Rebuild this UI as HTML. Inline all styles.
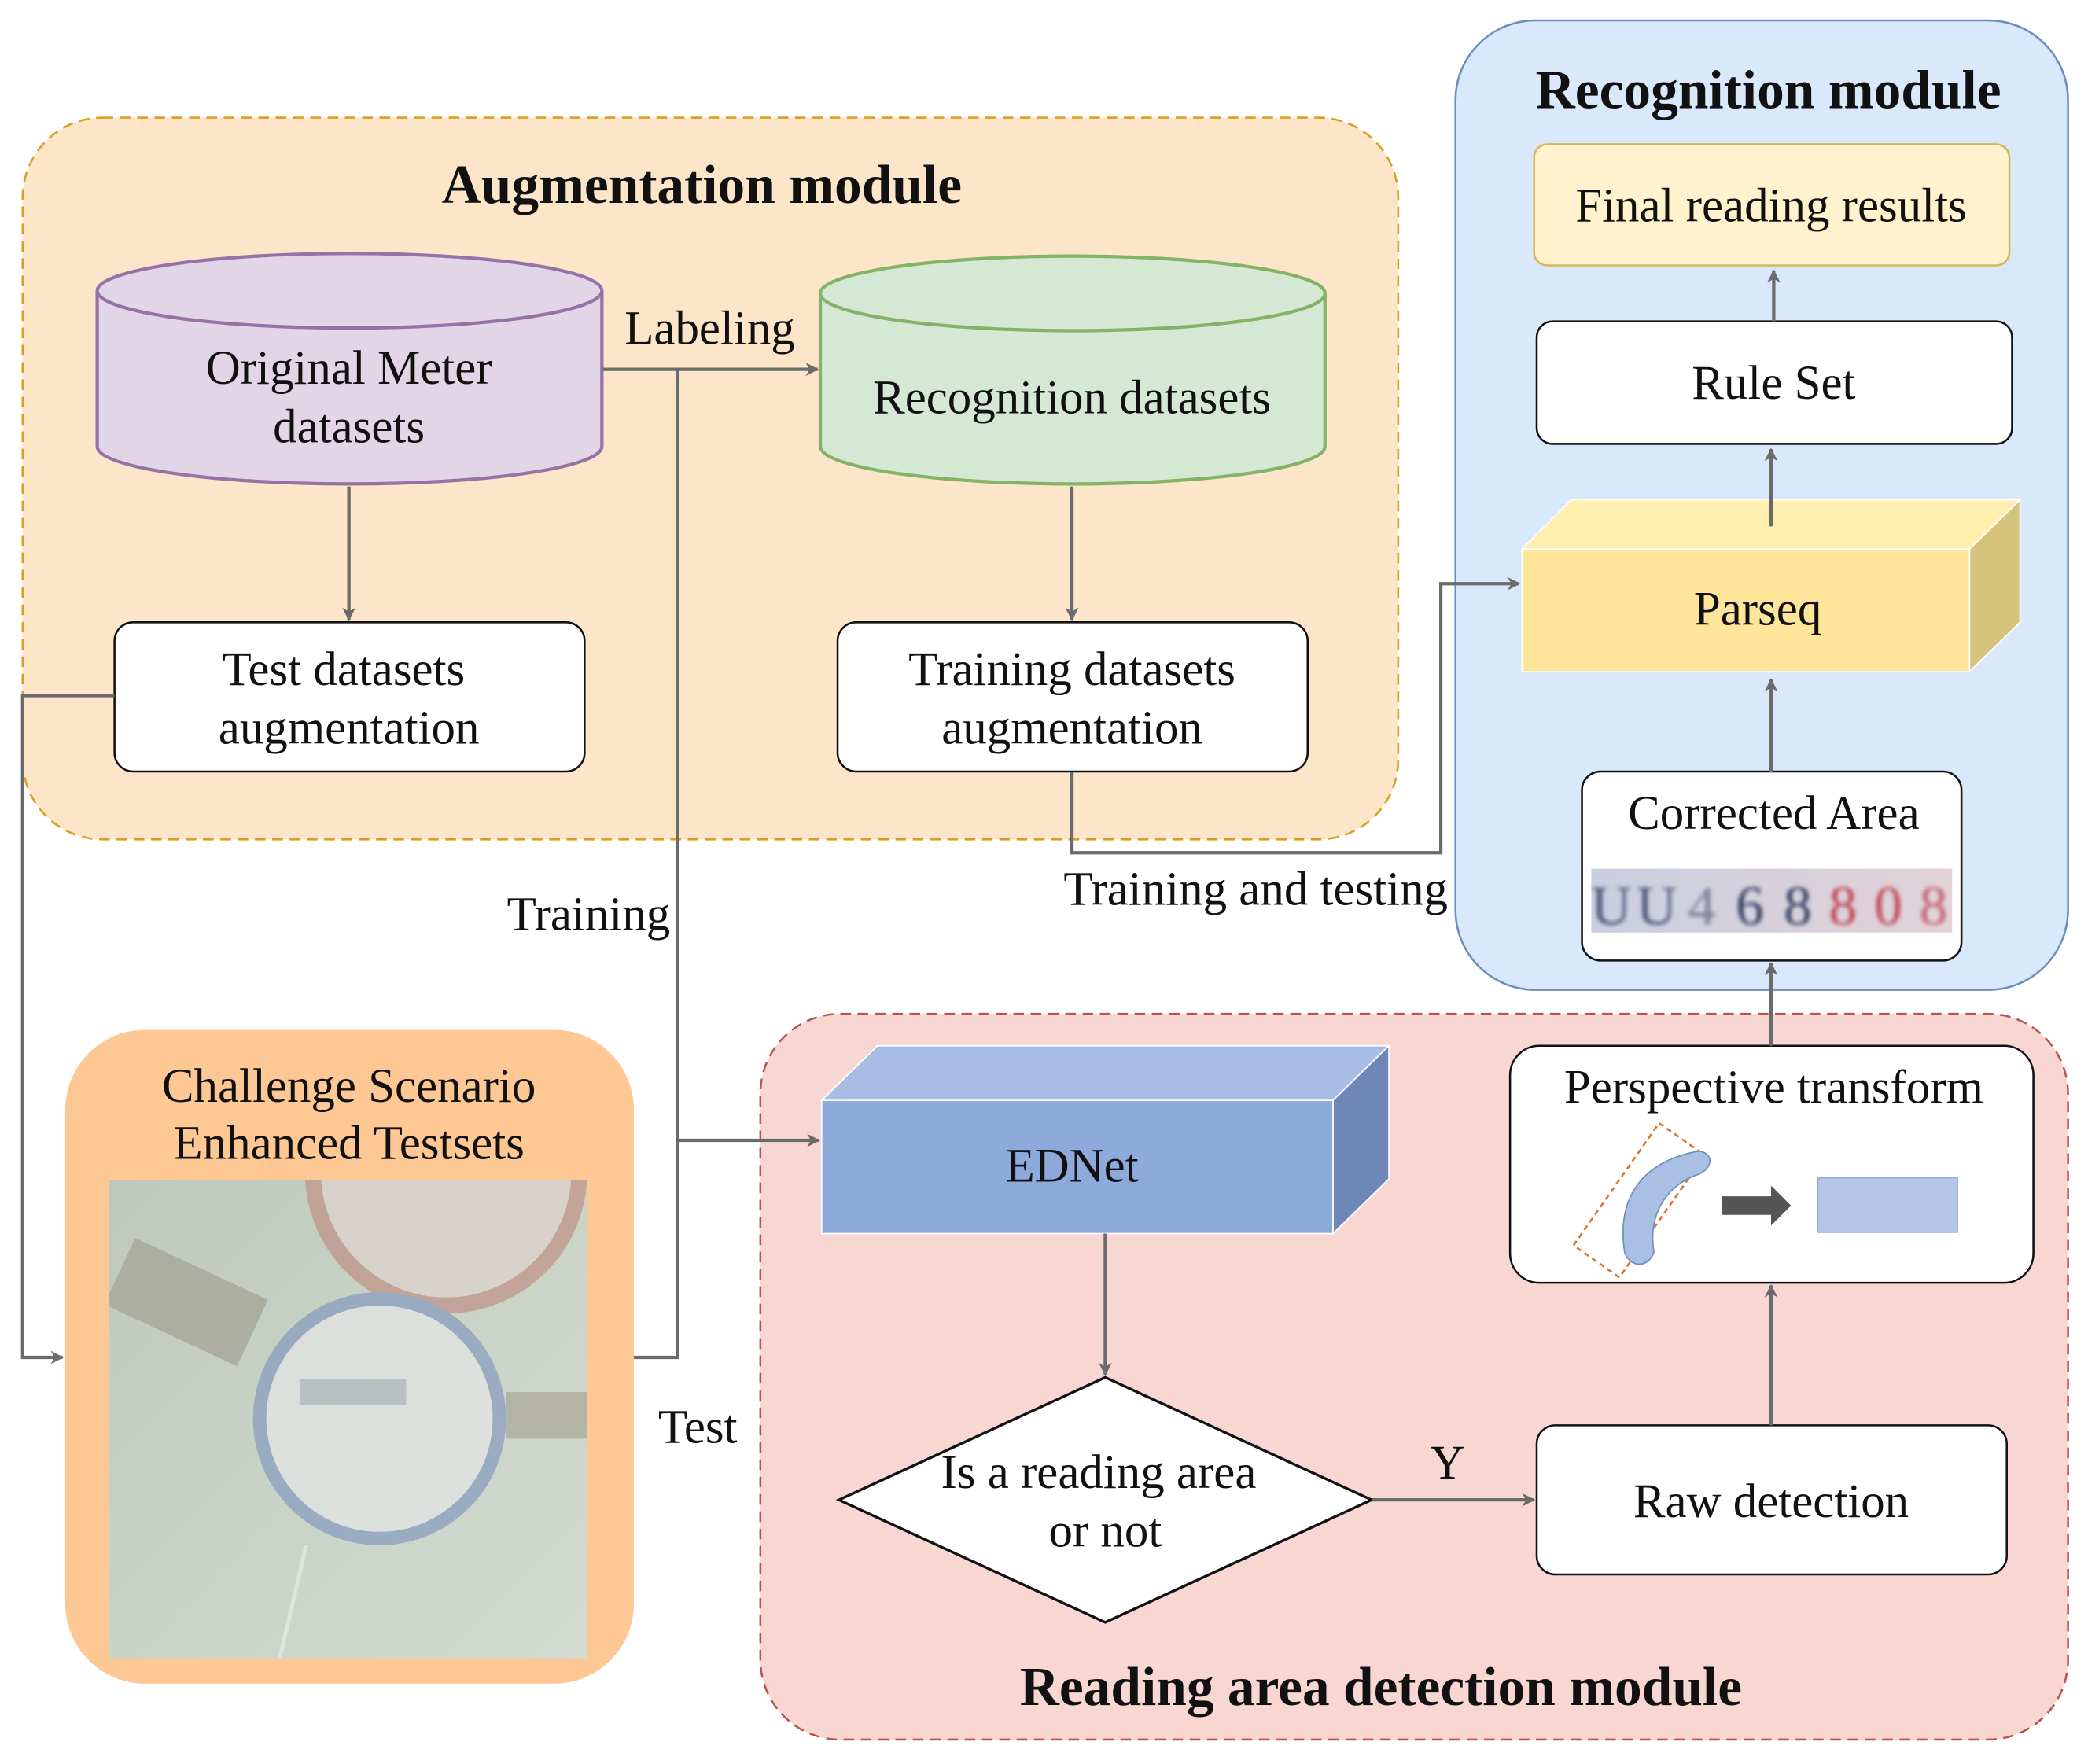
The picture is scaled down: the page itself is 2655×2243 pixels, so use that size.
<!DOCTYPE html>
<html><head><meta charset="utf-8"><style>
html,body{margin:0;padding:0;background:#fff;}
svg{display:block;}
text{font-family:"Liberation Serif",serif;fill:#111;}
</style></head><body>
<svg width="2655" height="2243" viewBox="0 0 1568 1324" xmlns="http://www.w3.org/2000/svg">
<defs>
<marker id="a" markerWidth="10" markerHeight="10" refX="9" refY="5" orient="auto" markerUnits="userSpaceOnUse"><path d="M0,0 L10,5 L0,10 L3,5 z" fill="#6b6b6b"/></marker>
<linearGradient id="ph" x1="0" y1="0" x2="1" y2="1"><stop offset="0" stop-color="#bfc8bb"/><stop offset="0.5" stop-color="#c9d3c6"/><stop offset="1" stop-color="#d4dbd2"/></linearGradient>
<linearGradient id="dg" x1="0" y1="0" x2="1" y2="0"><stop offset="0" stop-color="#c9cfe0"/><stop offset="1" stop-color="#e3d2d8"/></linearGradient>
<clipPath id="pc"><rect x="82" y="886" width="359" height="359"/></clipPath>
<filter id="bl"><feGaussianBlur stdDeviation="1.5"/></filter>
</defs>
<!-- Augmentation module -->
<rect x="17" y="88" width="1033" height="542" rx="60" fill="#fde5c9" stroke="#d9a020" stroke-width="1.5" stroke-dasharray="8,5"/>
<text x="527" y="152" font-size="41" font-weight="bold" text-anchor="middle">Augmentation module</text>
<path d="M73,218 V335 A189,28 0 0 0 452,335 V218" fill="#e1d5e7" stroke="#9673a6" stroke-width="2.5"/>
<ellipse cx="262.5" cy="218" rx="189.5" ry="28" fill="#e1d5e7" stroke="#9673a6" stroke-width="2.5"/>
<text x="262" y="288" font-size="36" text-anchor="middle">Original Meter</text>
<text x="262" y="332" font-size="36" text-anchor="middle">datasets</text>
<path d="M616,220 V335 A189,28 0 0 0 995,335 V220" fill="#d5e8d4" stroke="#82b366" stroke-width="2.5"/>
<ellipse cx="805.5" cy="220" rx="189.5" ry="28" fill="#d5e8d4" stroke="#82b366" stroke-width="2.5"/>
<text x="805" y="310" font-size="36" text-anchor="middle">Recognition datasets</text>
<text x="533" y="258" font-size="36" text-anchor="middle">Labeling</text>
<rect x="86" y="467" width="353" height="112" rx="14" fill="#fff" stroke="#111" stroke-width="1.5"/>
<text x="258" y="514" font-size="36" text-anchor="middle">Test datasets</text>
<text x="262" y="558" font-size="36" text-anchor="middle">augmentation</text>
<rect x="629" y="467" width="353" height="112" rx="14" fill="#fff" stroke="#111" stroke-width="1.5"/>
<text x="805" y="514" font-size="36" text-anchor="middle">Training datasets</text>
<text x="805" y="558" font-size="36" text-anchor="middle">augmentation</text>

<!-- Recognition module -->
<rect x="1093" y="15" width="460" height="728" rx="60" fill="#dae8fc" stroke="#6c8ebf" stroke-width="1.5"/>
<text x="1328" y="81" font-size="41" font-weight="bold" text-anchor="middle">Recognition module</text>
<rect x="1152" y="108" width="357" height="91" rx="10" fill="#fff2cc" stroke="#d6b656" stroke-width="1.5"/>
<text x="1330" y="166" font-size="36" text-anchor="middle">Final reading results</text>
<rect x="1154" y="241" width="357" height="92" rx="12" fill="#fff" stroke="#111" stroke-width="1.5"/>
<text x="1332" y="299" font-size="36" text-anchor="middle">Rule Set</text>
<polygon points="1143,412 1180,375 1517,375 1479,412" fill="#fff0b0" stroke="#fff" stroke-width="1"/>
<polygon points="1479,412 1517,375 1517,467 1479,504" fill="#d7c47c" stroke="#fff" stroke-width="1"/>
<rect x="1143" y="412" width="336" height="92" fill="#ffe599" stroke="#fff" stroke-width="1"/>
<text x="1320" y="469" font-size="36" text-anchor="middle">Parseq</text>
<rect x="1188" y="579" width="285" height="142" rx="14" fill="#fff" stroke="#111" stroke-width="1.5"/>
<text x="1332" y="622" font-size="36" text-anchor="middle">Corrected Area</text>
<rect x="1195" y="652" width="271" height="48" fill="url(#dg)"/>
<g font-size="42" font-family="Liberation Sans,sans-serif" text-anchor="middle" filter="url(#bl)">
<text x="1210" y="694" style="fill:#4a5578">U</text><text x="1244" y="694" style="fill:#4a5578">U</text><text x="1278" y="694" style="fill:#7a8098">4</text><text x="1314" y="694" style="fill:#2f3a5c">6</text><text x="1350" y="694" style="fill:#2f3a5c">8</text><text x="1384" y="694" style="fill:#c0404a">8</text><text x="1418" y="694" style="fill:#c0404a">0</text><text x="1452" y="694" style="fill:#c06070">8</text>
</g>

<!-- Reading area detection module -->
<rect x="571" y="761" width="982" height="545" rx="60" fill="#f8d7d3" stroke="#b85450" stroke-width="1.5" stroke-dasharray="8,5"/>
<text x="1037" y="1280" font-size="41" font-weight="bold" text-anchor="middle">Reading area detection module</text>
<polygon points="617,826 659,785 1043,785 1001,826" fill="#a8bde6" stroke="#fff" stroke-width="1"/>
<polygon points="1001,826 1043,785 1043,885 1001,926" fill="#6f87b8" stroke="#fff" stroke-width="1"/>
<rect x="617" y="826" width="384" height="100" fill="#8eaadb" stroke="#fff" stroke-width="1"/>
<text x="805" y="887" font-size="36" text-anchor="middle">EDNet</text>
<polygon points="630,1126 830,1034 1030,1126 830,1218" fill="#fff" stroke="#111" stroke-width="2"/>
<text x="825" y="1117" font-size="36" text-anchor="middle">Is a reading area</text>
<text x="830" y="1161" font-size="36" text-anchor="middle">or not</text>
<text x="1087" y="1110" font-size="36" text-anchor="middle">Y</text>
<rect x="1154" y="1070" width="353" height="112" rx="14" fill="#fff" stroke="#111" stroke-width="1.5"/>
<text x="1330" y="1139" font-size="36" text-anchor="middle">Raw detection</text>
<rect x="1134" y="785" width="393" height="178" rx="22" fill="#fff" stroke="#111" stroke-width="1.5"/>
<text x="1332" y="828" font-size="36" text-anchor="middle">Perspective transform</text>
<rect x="1210" y="845" width="42" height="112" fill="none" stroke="#e0702a" stroke-width="1.5" stroke-dasharray="4,3" transform="rotate(35 1231 901)"/>
<path d="M1220,940 C1214,900 1232,872 1276,864 C1288,866 1286,878 1274,882 C1248,892 1238,915 1242,940 C1238,952 1224,952 1220,940 z" fill="#a9bfe3" stroke="#6c8ebf" stroke-width="1"/>
<polygon points="1293,898 1330,898 1330,890 1345,905 1330,920 1330,912 1293,912" fill="#555"/>
<rect x="1365" y="884" width="105" height="41" fill="#b3c6e8" stroke="#8eaadb" stroke-width="1"/>

<!-- Challenge box -->
<rect x="49" y="773" width="427" height="491" rx="60" fill="#fec894"/>
<text x="262" y="827" font-size="36" text-anchor="middle">Challenge Scenario</text>
<text x="262" y="870" font-size="36" text-anchor="middle">Enhanced Testsets</text>
<rect x="82" y="886" width="359" height="359" fill="url(#ph)"/>
<g clip-path="url(#pc)" opacity="0.75">
<circle cx="335" cy="880" r="100" fill="#dcd2cc" stroke="#c0948a" stroke-width="12"/>
<rect x="85" y="950" width="110" height="55" fill="#a4a496" transform="rotate(25 140 977)"/>
<circle cx="285" cy="1065" r="90" fill="#e3e5e4" stroke="#8a9ec0" stroke-width="10"/>
<rect x="225" y="1035" width="80" height="20" fill="#b5b9c2"/>
<rect x="380" y="1045" width="61" height="35" fill="#aaa89a"/>
<path d="M230,1160 L210,1245" stroke="#e6e8e6" stroke-width="3"/>
</g>

<!-- connectors -->
<g stroke="#6b6b6b" stroke-width="2.5" fill="none">
<path d="M452,277 H614" marker-end="url(#a)"/>
<path d="M262,365 V465" marker-end="url(#a)"/>
<path d="M805,365 V465" marker-end="url(#a)"/>
<path d="M805,579 V640 H1082 V438 H1141" marker-end="url(#a)"/>
<path d="M1330,579 V510" marker-end="url(#a)"/>
<path d="M1330,395 V337" marker-end="url(#a)"/>
<path d="M1332,241 V203" marker-end="url(#a)"/>
<path d="M1330,785 V723" marker-end="url(#a)"/>
<path d="M1330,1070 V965" marker-end="url(#a)"/>
<path d="M1030,1126 H1152" marker-end="url(#a)"/>
<path d="M830,926 V1032" marker-end="url(#a)"/>
<path d="M86,522 H17 V1019 H47" marker-end="url(#a)"/>
<path d="M476,1019 H509 V277"/>
<path d="M509,856 H615" marker-end="url(#a)"/>
</g>
<text x="943" y="679" font-size="36" text-anchor="middle">Training and testing</text>
<text x="442" y="698" font-size="36" text-anchor="middle">Training</text>
<text x="524" y="1083" font-size="36" text-anchor="middle">Test</text>
</svg>
</body></html>
